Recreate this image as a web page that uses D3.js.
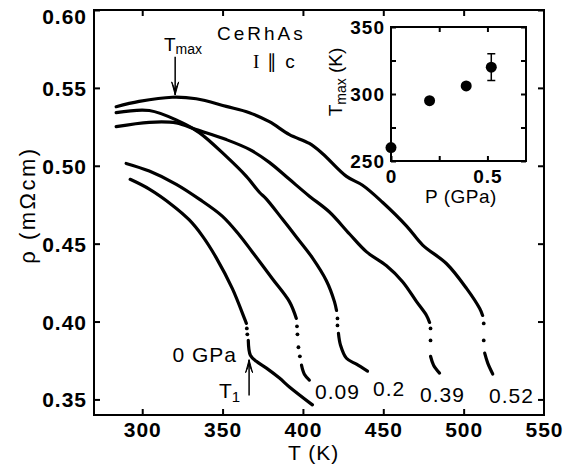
<!DOCTYPE html>
<html>
  <head>
    <meta charset="utf-8" />
    <script src="https://d3js.org/d3.v7.min.js"></script>
    <style>
      body {
        margin: 0;
        background: #fff;
      }
      text {
        font-family: "Liberation Sans", Arial, sans-serif;
        fill: #000;
      }
      .tick text {
        font-size: 21px;
        font-weight: bold;
        letter-spacing: 1px;
      }
      .inset .tick text {
        font-size: 19px;
      }
      .domain {
        display: none;
      }
      .tick line {
        stroke: #000;
        stroke-width: 2;
      }
    </style>
  </head>
  <body>
    <div id="chart"></div>
    <script>
      // main panel axes
      const xTicks = [300, 350, 400, 450, 500, 550];
      const yTicks = [0.35, 0.4, 0.45, 0.5, 0.55, 0.6];

      // rho(T) per pressure, [T (K), rho (mOhm cm)]
      // each curve is a list of segments; one-point segments are the sparse dots at the jump
      const curve0 = [
        [[292.5, 0.4913], [304.4, 0.485], [318.7, 0.4747], [329.3, 0.4652], [337.4, 0.455],
         [346.1, 0.4409], [356.1, 0.4211], [363.6, 0.402], [364.8, 0.3988]],
        [[365.1, 0.3956]],
        [[365.4, 0.3918]],
        [[366.0, 0.3879], [367.3, 0.3784], [371.0, 0.3745], [377.3, 0.3701], [385.4, 0.3637],
         [391.6, 0.358], [405.9, 0.3465]]
      ];
      const curve009 = [
        [[290.0, 0.5015], [304.4, 0.4966], [321.2, 0.4881], [335.5, 0.4786], [349.8, 0.4677],
         [360.4, 0.4556], [368.5, 0.4447], [381.0, 0.4275], [391.6, 0.4128], [395.9, 0.402]],
        [[396.3, 0.3969]],
        [[396.6, 0.3918]],
        [[397.2, 0.3835]],
        [[398.1, 0.3777]],
        [[399.1, 0.372], [400.9, 0.3662], [404.0, 0.3624]]
      ];
      const curve02 = [
        [[283.8, 0.5341], [304.4, 0.5355], [323.1, 0.5285], [335.5, 0.5213], [352.3, 0.506],
         [364.8, 0.4932], [372.9, 0.483], [377.3, 0.4786], [387.2, 0.4658], [395.9, 0.4543],
         [405.9, 0.4409], [414.6, 0.4262], [419.6, 0.4128], [420.9, 0.4071]],
        [[421.5, 0.402]],
        [[421.5, 0.3975]],
        [[422.1, 0.3924], [423.4, 0.3848], [427.1, 0.3764], [433.3, 0.3726], [440.2, 0.3682]]
      ];
      const curve039 = [
        [[283.8, 0.5251], [304.4, 0.5279], [321.2, 0.5275], [333.6, 0.5232], [352.3, 0.5168],
         [366.7, 0.5105], [379.1, 0.5022], [391.6, 0.4913], [404.0, 0.4805], [416.5, 0.4703],
         [429.0, 0.4562], [439.6, 0.4447], [452.0, 0.4358], [462.0, 0.4256], [470.7, 0.4128],
         [476.9, 0.4039], [478.8, 0.3994]],
        [[479.4, 0.3956]],
        [[479.4, 0.3879]],
        [[479.4, 0.3777], [481.3, 0.372], [485.0, 0.3669]]
      ];
      const curve052 = [
        [[283.8, 0.5379], [298.1, 0.5413], [318.7, 0.544], [333.6, 0.543], [352.3, 0.5381],
         [366.7, 0.5341], [379.1, 0.5283], [391.6, 0.52], [404.0, 0.5143], [412.1, 0.5079],
         [427.1, 0.4932], [437.1, 0.4875], [449.5, 0.4766], [464.5, 0.4613], [474.5, 0.4491],
         [489.4, 0.4371], [501.9, 0.4211], [510.0, 0.4083], [511.8, 0.4039]],
        [[512.5, 0.3988]],
        [[512.5, 0.3879]],
        [[513.1, 0.3797], [515.0, 0.3733], [518.1, 0.3663]]
      ];
      const curves = [curve0, curve009, curve02, curve039, curve052];

      // pressure labels and where they sit [T, rho]
      const pressureLabels = ["0 GPa", "0.09", "0.2", "0.39", "0.52"];
      const labelSpots = [[359, 0.374], [407.5, 0.3503], [443.6, 0.3522], [472.9, 0.3483], [515.8, 0.3477]];
      const labelAnchors = ["end", "start", "start", "start", "start"];

      // inset: Tmax vs pressure
      const pressures = [0, 0.2, 0.39, 0.52];
      const tMax = [260, 295, 306, 320];
      const tMaxErr = [0, 0, 0, 10];
      const insetXTicks = [0, 0.25, 0.5];
      const insetYTicks = [250, 275, 300, 325, 350];

      const W = 580, H = 470;
      const margin = { top: 10, right: 36, bottom: 55, left: 94 };

      const svg = d3
        .select("#chart")
        .append("svg")
        .attr("width", W)
        .attr("height", H);

      const x = d3.scaleLinear().domain([270, 550]).range([margin.left, W - margin.right]);
      const y = d3.scaleLinear().domain([0.34, 0.6]).range([H - margin.bottom, margin.top]);

      // ticks on all four sides, pointing in
      svg
        .append("g")
        .attr("transform", "translate(0," + (H - margin.bottom) + ")")
        .call(d3.axisBottom(x).tickValues(xTicks).tickSizeInner(-6).tickSizeOuter(0).tickPadding(7))
        .call((g) => g.selectAll(".tick").filter((d) => d === 550).select("line").remove());
      svg
        .append("g")
        .attr("transform", "translate(0," + margin.top + ")")
        .call(d3.axisTop(x).tickValues([300, 350, 400, 450, 500]).tickSizeInner(-6).tickSizeOuter(0).tickFormat(""));
      svg
        .append("g")
        .attr("transform", "translate(" + margin.left + ",0)")
        .call(d3.axisLeft(y).tickValues(yTicks).tickSizeInner(-6).tickSizeOuter(0).tickPadding(7).tickFormat(d3.format(".2f")))
        .call((g) => g.selectAll(".tick text").attr("dy", (d) => (d === 0.6 ? "0.62em" : "0.36em")));
      svg
        .append("g")
        .attr("transform", "translate(" + (W - margin.right) + ",0)")
        .call(d3.axisRight(y).tickValues(yTicks).tickSizeInner(-6).tickSizeOuter(0).tickFormat(""));

      svg
        .append("rect")
        .attr("x", margin.left)
        .attr("y", margin.top)
        .attr("width", W - margin.left - margin.right)
        .attr("height", H - margin.top - margin.bottom)
        .attr("fill", "none")
        .attr("stroke", "#000")
        .attr("stroke-width", 2);

      // axis titles
      svg
        .append("text")
        .attr("x", 288)
        .attr("y", 460)
        .style("font-size", "21px")
        .style("letter-spacing", "1px")
        .text("T (K)");
      svg
        .append("text")
        .attr("transform", "translate(35,205) rotate(-90)")
        .attr("text-anchor", "middle")
        .style("font-size", "22px")
        .style("letter-spacing", "2.5px")
        .text("ρ (mΩcm)");

      // the curves
      const line = d3
        .line()
        .x((d) => x(d[0]))
        .y((d) => y(d[1]))
        .curve(d3.curveCatmullRom);

      curves.forEach((segs) => {
        segs.forEach((seg) => {
          if (seg.length === 1) {
            svg
              .append("circle")
              .attr("cx", x(seg[0][0]))
              .attr("cy", y(seg[0][1]))
              .attr("r", 1.9)
              .attr("fill", "#000");
          } else {
            svg
              .append("path")
              .attr("d", line(seg))
              .attr("fill", "none")
              .attr("stroke", "#000")
              .attr("stroke-width", 3.2)
              .attr("stroke-linecap", "round")
              .attr("stroke-linejoin", "round");
          }
        });
      });

      pressureLabels.forEach((lab, i) => {
        svg
          .append("text")
          .attr("x", x(labelSpots[i][0]))
          .attr("y", y(labelSpots[i][1]))
          .attr("text-anchor", labelAnchors[i])
          .style("font-size", "21px")
          .style("letter-spacing", "1px")
          .text(lab);
      });

      // sample name
      svg
        .append("text")
        .attr("x", 217)
        .attr("y", 40)
        .style("font-size", "19px")
        .style("letter-spacing", "3px")
        .text("CeRhAs");
      const cur = svg.append("text").attr("x", 253).attr("y", 68).style("font-size", "19px");
      cur.append("tspan").style("font-family", "'Liberation Serif', serif").text("I");
      cur.append("tspan").attr("dx", 8).text("∥");
      cur.append("tspan").attr("dx", 8).text("c");

      // arrows
      function arrow(xp, y0, y1) {
        const dir = y1 > y0 ? 1 : -1;
        svg
          .append("line")
          .attr("x1", xp)
          .attr("x2", xp)
          .attr("y1", y0)
          .attr("y2", y1)
          .attr("stroke", "#000")
          .attr("stroke-width", 1.5);
        svg
          .append("path")
          .attr("d", `M${xp - 3.5},${y1 - dir * 13} L${xp},${y1} L${xp + 3.5},${y1 - dir * 13} L${xp},${y1 - dir * 5} Z`)
          .attr("fill", "#000")
          .attr("stroke", "#000")
          .attr("stroke-width", 1);
      }
      arrow(x(320.5), y(0.57), y(0.5455));
      arrow(x(366.5), y(0.3525), y(0.3755));

      const tmaxLab = svg.append("text").attr("x", 164).attr("y", 51).style("font-size", "19px");
      tmaxLab.append("tspan").text("T");
      tmaxLab.append("tspan").attr("dy", 3).style("font-size", "14px").text("max");
      const t1Lab = svg.append("text").attr("x", 219).attr("y", 398).style("font-size", "21px");
      t1Lab.append("tspan").text("T");
      t1Lab.append("tspan").attr("dy", 4).style("font-size", "15px").text("1");

      // inset
      const inset = svg.append("g").attr("class", "inset");
      const ix = d3.scaleLinear().domain([0, 0.7]).range([391, 526]);
      const iy = d3.scaleLinear().domain([250, 350]).range([161, 27]);

      inset
        .append("g")
        .attr("transform", "translate(0,161)")
        .call(d3.axisBottom(ix).tickValues(insetXTicks).tickSizeInner(-5).tickSizeOuter(0).tickPadding(9)
          .tickFormat((d) => (d === 0.25 ? "" : d === 0 ? "0" : "0.5")));
      inset
        .append("g")
        .attr("transform", "translate(0,27)")
        .call(d3.axisTop(ix).tickValues([0.25, 0.5]).tickSizeInner(-5).tickSizeOuter(0).tickFormat(""));
      inset
        .append("g")
        .attr("transform", "translate(391,0)")
        .call(d3.axisLeft(iy).tickValues(insetYTicks).tickSizeInner(-5).tickSizeOuter(0).tickPadding(6)
          .tickFormat((d) => (d % 50 === 0 ? d : "")));
      inset
        .append("g")
        .attr("transform", "translate(526,0)")
        .call(d3.axisRight(iy).tickValues(insetYTicks).tickSizeInner(-5).tickSizeOuter(0).tickFormat(""));
      inset
        .append("rect")
        .attr("x", 391)
        .attr("y", 27)
        .attr("width", 135)
        .attr("height", 134)
        .attr("fill", "none")
        .attr("stroke", "#000")
        .attr("stroke-width", 2);

      inset
        .selectAll(".err")
        .data(pressures.filter((p, i) => tMaxErr[i] > 0).map((p) => pressures.indexOf(p)))
        .enter()
        .append("path")
        .attr("d", (i) => {
          const cx = ix(pressures[i]);
          const top = iy(tMax[i] + tMaxErr[i]);
          const bot = iy(tMax[i] - tMaxErr[i]);
          return `M${cx},${top}V${bot}M${cx - 4},${top}H${cx + 4}M${cx - 4},${bot}H${cx + 4}`;
        })
        .attr("stroke", "#000")
        .attr("stroke-width", 1.5)
        .attr("fill", "none");

      inset
        .selectAll(".pt")
        .data(pressures)
        .enter()
        .append("circle")
        .attr("cx", (d) => ix(d))
        .attr("cy", (d, i) => iy(tMax[i]))
        .attr("r", 5.5)
        .attr("fill", "#000");

      inset
        .append("text")
        .attr("x", 461)
        .attr("y", 203)
        .attr("text-anchor", "middle")
        .style("font-size", "19px")
        .style("letter-spacing", "0.5px")
        .text("P (GPa)");
      const iyLab = inset
        .append("text")
        .attr("transform", "translate(342,82) rotate(-90)")
        .attr("text-anchor", "middle")
        .style("font-size", "19px");
      iyLab.append("tspan").text("T");
      iyLab.append("tspan").attr("dy", 4).style("font-size", "14px").text("max");
      iyLab.append("tspan").attr("dy", -4).text(" (K)");
    </script>
  </body>
</html>
